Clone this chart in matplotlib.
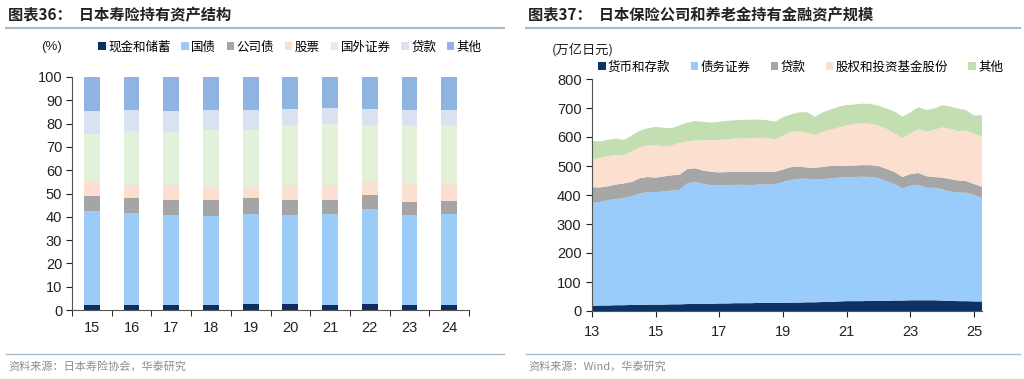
import numpy as np
import matplotlib.pyplot as plt
from matplotlib.lines import Line2D

plt.rcParams['font.family'] = ['Noto Sans CJK SC', 'DejaVu Sans']
plt.rcParams['axes.unicode_minus'] = False

# ---- 图表36 数据 (%) ----
years36 = ['15', '16', '17', '18', '19', '20', '21', '22', '23', '24']
cash36 = [2.0, 2.0, 2.0, 2.1, 2.4, 2.5, 2.3, 2.6, 2.3, 2.0]
govbond36 = [40.4, 39.7, 38.7, 38.3, 39.0, 38.2, 38.7, 40.7, 38.4, 39.1]
corpbond36 = [6.6, 6.4, 6.4, 6.7, 6.7, 6.7, 6.3, 6.0, 5.6, 5.5]
stocks36 = [6.0, 5.5, 6.5, 5.8, 4.8, 6.2, 6.3, 6.1, 7.7, 7.4]
foreign36 = [20.7, 23.1, 22.8, 24.5, 24.5, 25.7, 26.1, 23.9, 25.3, 25.3]
loans36 = [9.7, 9.0, 8.9, 8.5, 8.3, 7.1, 7.0, 7.1, 6.6, 6.4]
other36 = [14.6, 14.3, 14.7, 14.1, 14.3, 13.6, 13.3, 13.6, 14.1, 14.3]
names36 = ['现金和储蓄', '国债', '公司债', '股票', '国外证券', '贷款', '其他']
colors36 = ['#0d2f5f', '#9ccbf8', '#a5a5a5', '#fbe0d1', '#e3f0da', '#d9e1f2', '#8fb4e2']

# ---- 图表37 数据 (万亿日元, 季度) ----
quarters = np.arange(50) * 0.25 + 13
cash37 = [18, 19, 19, 20, 20, 21, 21, 22, 22, 22, 23, 23, 24, 25, 25, 25, 26, 26, 27, 27,
          27, 28, 28, 28, 28, 29, 29, 30, 30, 31, 31, 33, 34, 34, 34, 35, 35, 35, 36, 36,
          37, 37, 37, 37, 36, 35, 34, 34, 33, 33]
bonds37 = [355, 357, 363, 366, 370, 375, 384, 388, 388, 390, 392, 395, 416, 420, 413, 409, 407, 408, 408, 408,
           407, 408, 409, 409, 417, 423, 427, 426, 424, 424, 426, 427, 427, 428, 429, 427, 423, 413, 402, 386,
           395, 398, 388, 388, 384, 377, 374, 374, 367, 357]
loans37 = [54, 50, 48, 50, 50, 49, 53, 52, 50, 52, 53, 52, 50, 47, 46, 46, 45, 45, 45, 45,
           45, 44, 44, 43, 43, 44, 42, 39, 40, 42, 43, 40, 40, 40, 40, 41, 42, 42, 42, 40,
           40, 41, 40, 37, 40, 43, 42, 40, 38, 38]
equity37 = [94, 102, 104, 102, 98, 105, 107, 108, 112, 104, 102, 110, 95, 96, 104, 110, 112, 113, 115, 115,
            117, 117, 116, 112, 117, 121, 122, 119, 113, 121, 125, 133, 139, 143, 144, 142, 140, 138, 132, 134,
            140, 152, 153, 163, 173, 173, 170, 174, 174, 172]
other37 = [65, 57, 56, 57, 52, 55, 57, 60, 63, 64, 60, 60, 65, 67, 64, 60, 62, 64, 63, 64,
           64, 63, 61, 61, 63, 61, 65, 72, 63, 67, 70, 72, 70, 67, 68, 69, 68, 70, 76, 74,
           73, 75, 75, 73, 77, 77, 78, 71, 62, 75]
names37 = ['货币和存款', '债务证券', '贷款', '股权和投资基金股份', '其他']
colors37 = ['#0d3263', '#99cbfb', '#a6a6a6', '#fbe0d0', '#c3dfb1']
xticks37 = [13, 15, 17, 19, 21, 23, 25]

fig = plt.figure(figsize=(10.24, 3.79), dpi=100)
W, H = 1024, 379

def fx(px):
    return px / W

def fy(py):
    return 1 - py / H

# titles, rules, sources
line_col = '#a9bccd'
fig.text(fx(8), fy(15), '图表36：  日本寿险持有资产结构', fontsize=11, fontweight='bold', va='center', color='#222222')
fig.text(fx(528), fy(15), '图表37：  日本保险公司和养老金持有金融资产规模', fontsize=11, fontweight='bold', va='center', color='#222222')
for x0, x1 in [(6, 504), (526, 1020)]:
    fig.add_artist(Line2D([fx(x0), fx(x1)], [fy(28), fy(28)], color=line_col, lw=1.5))
    fig.add_artist(Line2D([fx(x0), fx(x1)], [fy(354), fy(354)], color=line_col, lw=1.0))
fig.text(fx(8), fy(366), '资料来源：日本寿险协会，华泰研究', fontsize=8, color='#8c8c8c', va='center')
fig.text(fx(528), fy(366), '资料来源：Wind，华泰研究', fontsize=8, color='#8c8c8c', va='center')

tick_font = 'Liberation Sans'

# ---- left chart ----
ax1 = fig.add_axes([fx(72), fy(310), fx(469 - 72), (310 - 77) / H])
xpos = np.arange(len(years36))
bottom = np.zeros(len(years36))
series36 = [cash36, govbond36, corpbond36, stocks36, foreign36, loans36, other36]
for vals, name, col in zip(series36, names36, colors36):
    ax1.bar(xpos, vals, 0.4, bottom=bottom, color=col, label=name)
    bottom += np.array(vals)
ax1.set_xlim(-0.5, len(years36) - 0.5)
ax1.set_ylim(0, 100)
ax1.set_yticks(range(0, 101, 10))
ax1.set_xticks(xpos)
ax1.set_xticklabels(years36)
ax1.set_xticks(np.arange(-0.5, len(years36), 1), minor=True)
ax1.tick_params(axis='x', which='major', length=0, pad=8)
ax1.tick_params(axis='x', which='minor', length=4, direction='out')
ax1.tick_params(axis='y', length=4, direction='out', pad=3)
ax1.tick_params(labelsize=10.5, colors='#222222')
for lab in ax1.get_xticklabels() + ax1.get_yticklabels():
    lab.set_family(tick_font)
for s in ['top', 'right']:
    ax1.spines[s].set_visible(False)
ax1.spines['left'].set_color('#555555')
ax1.spines['bottom'].set_color('#555555')
fig.text(fx(52), fy(47), '(%)', fontsize=9.5, va='center', ha='center', color='#222222', family=tick_font)
fig.legend(*ax1.get_legend_handles_labels(), loc='center left', bbox_to_anchor=(fx(98), fy(47)),
           ncol=7, frameon=False, fontsize=9, handlelength=0.6, handleheight=0.6,
           handletextpad=0.2, columnspacing=0.85, borderaxespad=0, borderpad=0)

# ---- right chart ----
ax2 = fig.add_axes([fx(592), fy(311), fx(982 - 592), (311 - 79) / H])
ax2.stackplot(quarters, cash37, bonds37, loans37, equity37, other37,
              colors=colors37, labels=names37, lw=0)
ax2.set_xlim(13, quarters[-1])
ax2.set_ylim(0, 800)
ax2.set_yticks(range(0, 801, 100))
ax2.set_xticks(xticks37)
ax2.tick_params(axis='both', length=4, direction='out')
ax2.tick_params(axis='x', pad=6)
ax2.tick_params(labelsize=10.5, colors='#222222')
for lab in ax2.get_xticklabels() + ax2.get_yticklabels():
    lab.set_family(tick_font)
for s in ['top', 'right']:
    ax2.spines[s].set_visible(False)
ax2.spines['left'].set_color('#555555')
ax2.spines['bottom'].set_color('#555555')
fig.text(fx(552), fy(50), '(万亿日元)', fontsize=9.5, va='center', color='#222222')
fig.legend(*ax2.get_legend_handles_labels(), loc='center left', bbox_to_anchor=(fx(598), fy(67)),
           ncol=5, frameon=False, fontsize=9, handlelength=0.6, handleheight=0.6,
           handletextpad=0.2, columnspacing=1.6, borderaxespad=0, borderpad=0)

fig.savefig('out.png', dpi=100, facecolor='white')
